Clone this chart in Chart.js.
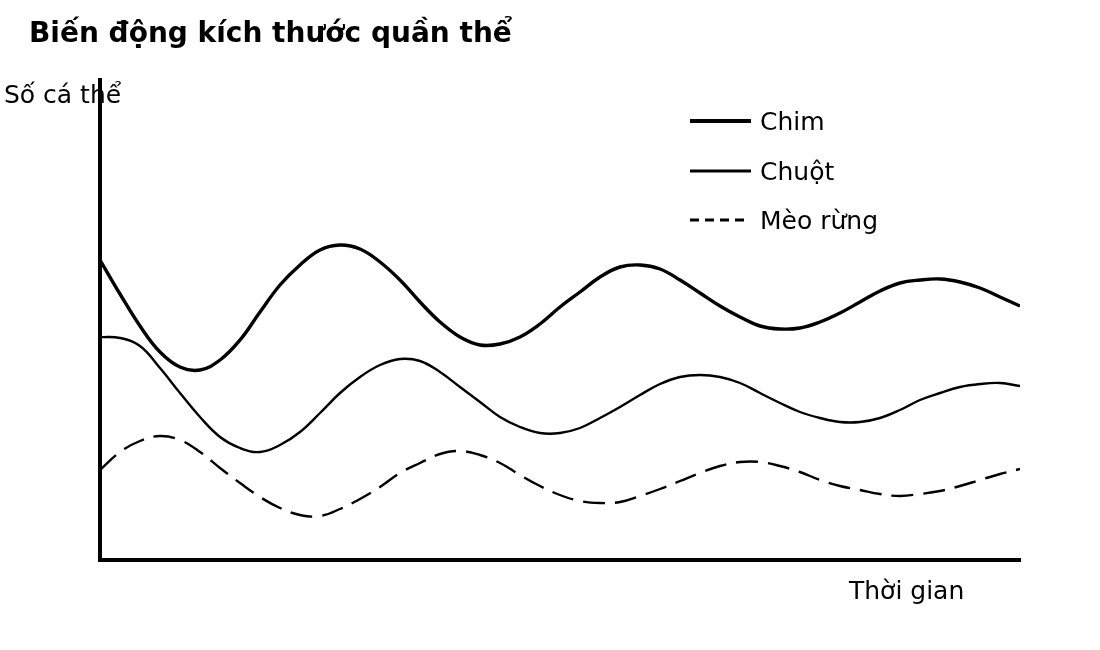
<!DOCTYPE html>
<html>
<head>
<meta charset="utf-8">
<script src="https://cdn.jsdelivr.net/npm/chart.js@4/dist/chart.umd.min.js"></script>
<style>
  html, body { margin: 0; padding: 0; background: #fff; }
  #wrap { width: 1100px; height: 650px; position: relative; }
</style>
</head>
<body>
<div id="wrap"><canvas id="c" width="1100" height="650"></canvas></div>
<script>
// ---- data ----
const chartTitle = 'Biến động kích thước quần thể';
const yAxisLabel = 'Số cá thể';
const xAxisLabel = 'Thời gian';
const seriesNames = ['Chim', 'Chuột', 'Mèo rừng'];

const time = [0, 2, 4, 6, 8, 10, 12, 14, 16, 18, 20, 22, 24, 26, 28, 30, 32, 34, 36, 38, 40, 42, 44, 46,
              48, 50, 52, 54, 56, 58, 60, 62, 64, 66, 68, 70, 72, 74, 76, 78, 80, 82, 84, 86, 88, 90, 92];

const chim = [30.0, 26.6, 23.4, 20.8, 19.3, 19.0, 20.0, 22.0, 24.8, 27.5, 29.5, 31.0, 31.5, 31.1, 29.8, 28.0,
              25.8, 23.8, 22.3, 21.5, 21.6, 22.3, 23.6, 25.3, 26.8, 28.3, 29.3, 29.5, 29.1, 28.0, 26.7, 25.4,
              24.3, 23.4, 23.1, 23.2, 23.8, 24.7, 25.8, 26.9, 27.7, 28.0, 28.1, 27.8, 27.2, 26.3, 25.4];

const chuot = [22.3, 22.2, 21.4, 19.2, 16.7, 14.3, 12.3, 11.2, 10.8, 11.5, 12.8, 14.7, 16.7, 18.3, 19.5, 20.1,
               19.9, 18.8, 17.3, 15.8, 14.3, 13.3, 12.7, 12.7, 13.2, 14.2, 15.3, 16.5, 17.6, 18.3, 18.5, 18.3,
               17.7, 16.7, 15.7, 14.8, 14.2, 13.8, 13.8, 14.2, 15.0, 16.0, 16.7, 17.3, 17.6, 17.7, 17.4];

const meoRung = [9.0, 10.8, 11.9, 12.4, 12.0, 10.8, 9.2, 7.7, 6.3, 5.2, 4.5, 4.4, 5.1, 6.1, 7.3, 8.7,
                 9.7, 10.6, 10.9, 10.5, 9.7, 8.5, 7.4, 6.5, 5.9, 5.7, 5.8, 6.4, 7.1, 7.9, 8.7, 9.4,
                 9.8, 9.8, 9.4, 8.8, 8.0, 7.4, 7.0, 6.6, 6.4, 6.6, 6.9, 7.4, 8.0, 8.6, 9.1];

// ---- styles ----
const lineWidths = [3.4, 2.4, 2.4];
const chartDashes = [[], [], [22, 10]];
const legendWidths = [4, 3, 3];
const legendDashes = [[], [], [9, 6]];
const FONT = '"DejaVu Sans", "Noto Sans", sans-serif';

const toPoints = (vals) => vals.map((v, i) => ({ x: time[i], y: v }));

const textPlugin = {
  id: 'textAndLegend',
  afterDraw(chart) {
    const ctx = chart.ctx;
    ctx.save();
    ctx.fillStyle = '#000';
    ctx.textAlign = 'left';
    ctx.textBaseline = 'alphabetic';
    ctx.font = 'bold 28px ' + FONT;
    ctx.fillText(chartTitle, 29, 42);
    ctx.font = '25px ' + FONT;
    ctx.fillText(yAxisLabel, 4, 103);
    ctx.fillText(xAxisLabel, 849, 599);

    // legend
    const ys = [121, 171, 220];
    chart.data.datasets.forEach((ds, i) => {
      ctx.beginPath();
      ctx.strokeStyle = '#000';
      ctx.lineWidth = legendWidths[i];
      ctx.setLineDash(legendDashes[i]);
      ctx.lineCap = 'butt';
      ctx.moveTo(690, ys[i]);
      ctx.lineTo(i === 2 ? 745 : 751, ys[i]);
      ctx.stroke();
      ctx.setLineDash([]);
      ctx.fillText(ds.label, 760, ys[i] + 9);
    });
    ctx.restore();
  }
};

new Chart(document.getElementById('c'), {
  type: 'line',
  data: {
    datasets: [
      { label: seriesNames[0], data: toPoints(chim), borderColor: '#000', borderWidth: lineWidths[0], borderDash: chartDashes[0] },
      { label: seriesNames[1], data: toPoints(chuot), borderColor: '#000', borderWidth: lineWidths[1], borderDash: chartDashes[1] },
      { label: seriesNames[2], data: toPoints(meoRung), borderColor: '#000', borderWidth: lineWidths[2], borderDash: chartDashes[2] }
    ]
  },
  options: {
    responsive: false,
    animation: false,
    devicePixelRatio: 1,
    layout: { padding: { left: 100, right: 80, top: 80, bottom: 90 } },
    plugins: { legend: { display: false }, title: { display: false }, tooltip: { enabled: false } },
    elements: { point: { radius: 0, hoverRadius: 0 }, line: { tension: 0.4, fill: false } },
    scales: {
      x: {
        type: 'linear', min: 0, max: 92,
        grid: { display: false, drawTicks: false, tickLength: 0 }, ticks: { display: false, padding: 0 },
        border: { display: true, color: '#000', width: 4 }
      },
      y: {
        type: 'linear', min: 0, max: 48,
        grid: { display: false, drawTicks: false, tickLength: 0 }, ticks: { display: false, padding: 0 },
        border: { display: true, color: '#000', width: 4 }
      }
    }
  },
  plugins: [textPlugin]
});
</script>
</body>
</html>
